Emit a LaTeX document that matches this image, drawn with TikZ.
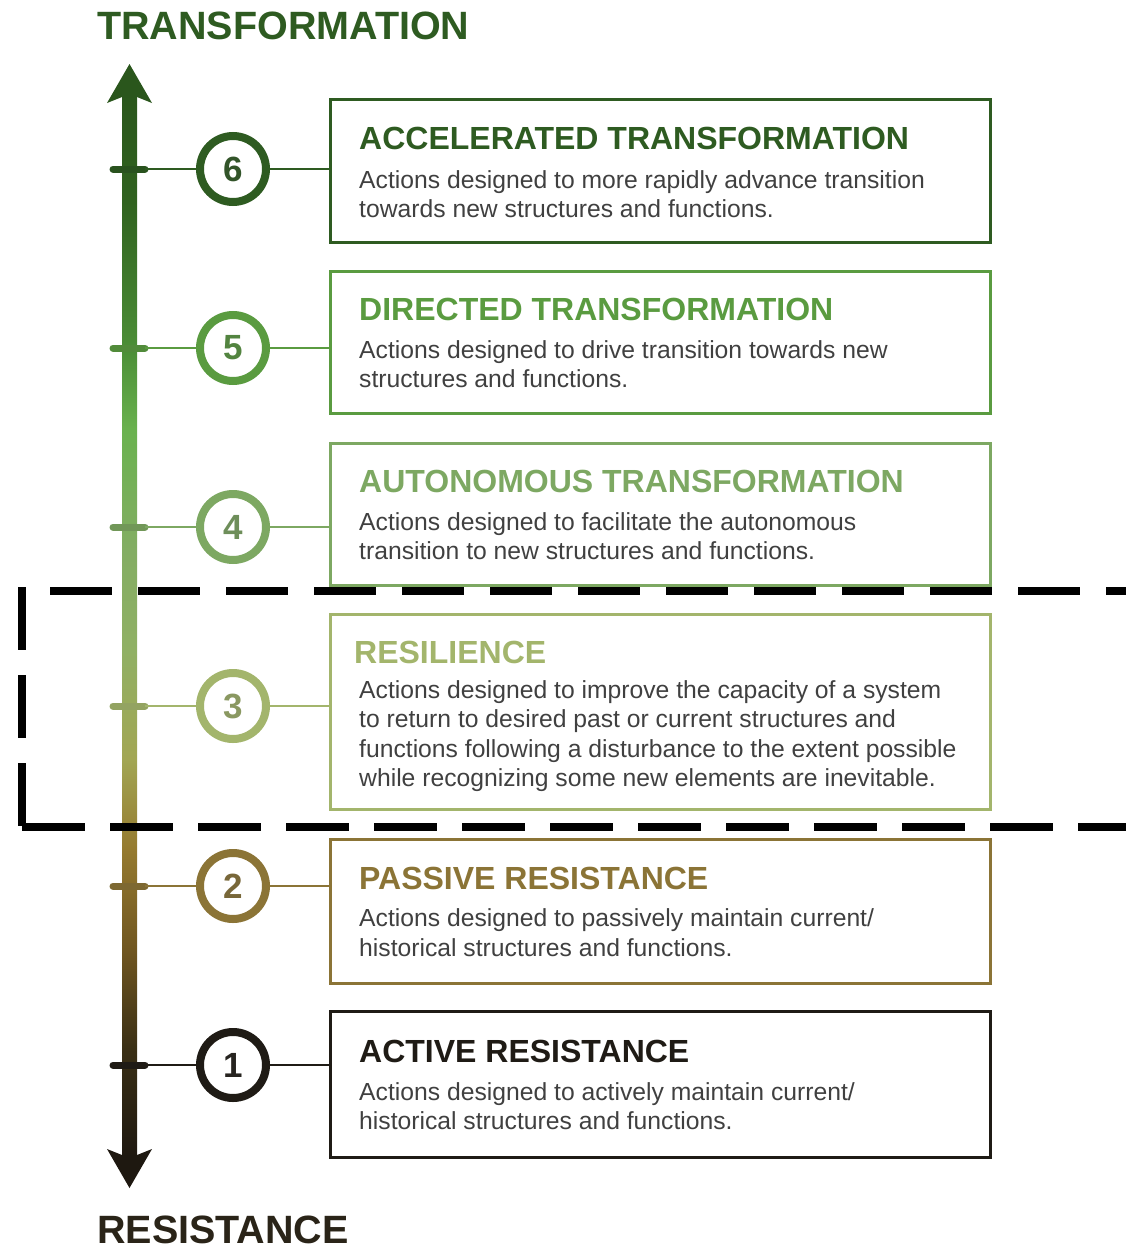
\documentclass[tikz,border=0pt]{standalone}
\usepackage{fontspec}
\setmainfont{Liberation Sans}
\definecolor{cSix}{HTML}{2E5B21}
\definecolor{cFive}{HTML}{5A9B40}
\definecolor{cFour}{HTML}{7DA862}
\definecolor{cThree}{HTML}{A3B56C}
\definecolor{cTwo}{HTML}{8B7436}
\definecolor{cOne}{HTML}{1F1B15}
\definecolor{txt}{HTML}{404040}
\definecolor{sA}{HTML}{2A561C}
\definecolor{sB}{HTML}{30621F}
\definecolor{sC}{HTML}{4C8F37}
\definecolor{sD}{HTML}{6AB24F}
\definecolor{sE}{HTML}{83AD63}
\definecolor{sF}{HTML}{90B064}
\definecolor{sG}{HTML}{A2A653}
\definecolor{sH}{HTML}{957A2F}
\definecolor{sI}{HTML}{705620}
\definecolor{sJ}{HTML}{3A2F15}
\definecolor{sK}{HTML}{1E1810}
\definecolor{resist}{HTML}{2A2418}
\pgfdeclareverticalshading{axisgrad}{100bp}{color(0bp)=(sK); color(25bp)=(sK); color(30.14bp)=(sJ); color(34.81bp)=(sI); color(39.49bp)=(sH); color(43.69bp)=(sG); color(48.83bp)=(sF); color(53.5bp)=(sE); color(59.11bp)=(sD); color(62.85bp)=(sC); color(69.86bp)=(sB); color(75bp)=(sA); color(100bp)=(sA)}
\begin{document}
\begin{tikzpicture}[x=1pt,y=-1pt,
  lvlbox/.style={draw=#1, line width=3pt, minimum width=660pt, inner sep=0pt},
  numcirc/.style={circle, draw=#1, line width=8pt, minimum size=66pt, inner sep=0pt, text=#1!75!txt, fill=white, font=\fontsize{35}{35}\selectfont\bfseries},
  conn/.style={draw=#1, line width=2.5pt},
  tickmark/.style={draw=#1, line width=7pt, line cap=round},
  ttl/.style={anchor=base west, inner sep=0pt, text=#1, font=\fontsize{32}{38}\selectfont\bfseries},
  dsc/.style={anchor=base west, inner sep=0pt, text=txt, font=\fontsize{24.7}{29}\selectfont},
  axlabel/.style={anchor=base west, inner sep=0pt, text=#1, font=\fontsize{39.5}{44}\selectfont\bfseries},
  dashline/.style={line width=8pt, draw=black, dash pattern=on 63pt off 25pt}
]
\useasboundingbox (0,0) rectangle (1125,1250);

% axis labels
\node[axlabel=cSix] (topLabel) at (97,39) {TRANSFORMATION};
\node[axlabel=resist] (botLabel) at (97,1243) {RESISTANCE};

% shaft and arrow heads
\shade[shading=axisgrad] (122,92) rectangle (137,1158);
\fill[sA] (129.5,64) -- (152,103) -- (137,97) -- (122,97) -- (107,103) -- cycle;
\fill[sK] (129.5,1188) -- (152,1149) -- (137,1155) -- (122,1155) -- (107,1149) -- cycle;

% tick marks
\draw[tickmark=cSix!90!black] (113,169) -- (145,169);
\draw[tickmark=cFive!90!black] (113,348) -- (145,348);
\draw[tickmark=cFour!90!black] (113,527) -- (145,527);
\draw[tickmark=cThree!90!black] (113,706) -- (145,706);
\draw[tickmark=cTwo!90!black] (113,886) -- (145,886);
\draw[tickmark=cOne] (113,1065) -- (145,1065);
\coordinate (t6) at (145,169);
\coordinate (t5) at (145,348);
\coordinate (t4) at (145,527);
\coordinate (t3) at (145,706);
\coordinate (t2) at (145,886);
\coordinate (t1) at (145,1065);

% boxes
\node[lvlbox=cSix, minimum height=143pt] (b6) at (660,170.5) {};
\node[lvlbox=cFive, minimum height=142pt] (b5) at (660,342) {};
\node[lvlbox=cFour, minimum height=142pt] (b4) at (660,514) {};
\node[lvlbox=cThree, minimum height=195pt] (b3) at (660,711.5) {};
\node[lvlbox=cTwo, minimum height=144pt] (b2) at (660,911) {};
\node[lvlbox=cOne, minimum height=146pt] (b1) at (660,1084) {};

% circles
\node[numcirc=cSix] (c6) at (233,169) {6};
\node[numcirc=cFive] (c5) at (233,348) {5};
\node[numcirc=cFour] (c4) at (233,527) {4};
\node[numcirc=cThree] (c3) at (233,706) {3};
\node[numcirc=cTwo] (c2) at (233,886) {2};
\node[numcirc=cOne] (c1) at (233,1065) {1};

% connectors
\draw[conn=cSix] (t6) -- (c6.west);
\draw[conn=cSix] (c6.east) -- (b6.west |- c6.east);
\draw[conn=cFive] (t5) -- (c5.west);
\draw[conn=cFive] (c5.east) -- (b5.west |- c5.east);
\draw[conn=cFour] (t4) -- (c4.west);
\draw[conn=cFour] (c4.east) -- (b4.west |- c4.east);
\draw[conn=cThree] (t3) -- (c3.west);
\draw[conn=cThree] (c3.east) -- (b3.west |- c3.east);
\draw[conn=cTwo] (t2) -- (c2.west);
\draw[conn=cTwo] (c2.east) -- (b2.west |- c2.east);
\draw[conn=cOne] (t1) -- (c1.west);
\draw[conn=cOne] (c1.east) -- (b1.west |- c1.east);

% texts
\node[ttl=cSix] (h6) at (359,149) {ACCELERATED TRANSFORMATION};
\node[dsc] (d6a) at (359,188) {Actions designed to more rapidly advance transition};
\node[dsc] (d6b) at (359,217) {towards new structures and functions.};

\node[ttl=cFive] (h5) at (359,320) {DIRECTED TRANSFORMATION};
\node[dsc] (d5a) at (359,358) {Actions designed to drive transition towards new};
\node[dsc] (d5b) at (359,387) {structures and functions.};

\node[ttl=cFour] (h4) at (359,492) {AUTONOMOUS TRANSFORMATION};
\node[dsc] (d4a) at (359,530) {Actions designed to facilitate the autonomous};
\node[dsc] (d4b) at (359,559) {transition to new structures and functions.};

\node[ttl=cThree] (h3) at (354,663) {RESILIENCE};
\node[dsc] (d3a) at (359,698) {Actions designed to improve the capacity of a system};
\node[dsc] (d3b) at (359,727) {to return to desired past or current structures and};
\node[dsc] (d3c) at (359,757) {functions following a disturbance to the extent possible};
\node[dsc] (d3d) at (359,786) {while recognizing some new elements are inevitable.};

\node[ttl=cTwo] (h2) at (359,889) {PASSIVE RESISTANCE};
\node[dsc] (d2a) at (359,926) {Actions designed to passively maintain current/};
\node[dsc] (d2b) at (359,956) {historical structures and functions.};

\node[ttl=cOne] (h1) at (359,1062) {ACTIVE RESISTANCE};
\node[dsc] (d1a) at (359,1100) {Actions designed to actively maintain current/};
\node[dsc] (d1b) at (359,1129) {historical structures and functions.};

% dashed resilience zone
\coordinate (zTL) at (22,587);
\coordinate (zBL) at (22,827);
\coordinate (zTS) at (50,591);
\coordinate (zTR) at (1130,591);
\coordinate (zBR) at (1130,827);
\draw[dashline] (zTL) -- (zBL);
\draw[dashline] (zBL) -- (zBR);
\draw[dashline, dash pattern=on 62pt off 26pt] (zTS) -- (zTR);
\end{tikzpicture}
\end{document}
